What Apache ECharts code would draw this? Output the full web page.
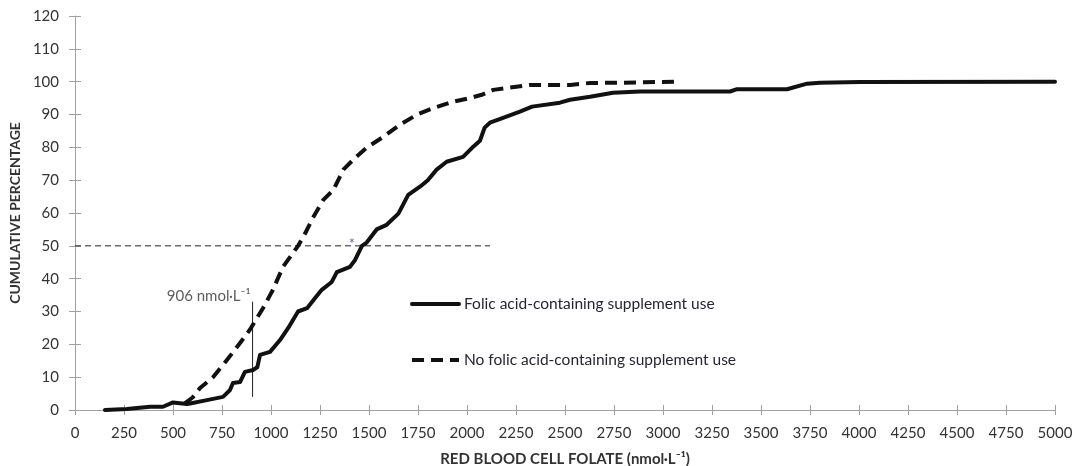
<!DOCTYPE html>
<head>
    <meta charset="utf-8">
    <script src="https://cdn.jsdelivr.net/npm/echarts@6/dist/echarts.min.js"></script>
    <title>Red blood cell folate</title>
    <style>
        html, body { margin: 0; padding: 0; background: #fff; }
    </style>
</head>

<body>
    <div id="main" style="width:1075px;height:466px;"></div>
    <script type="text/javascript">
        // folic acid-containing supplement use (x = RBC folate nmol/L, y = cumulative %)
        var suppX = [153, 265, 383, 449, 500, 571, 587, 673, 755, 790, 806, 842, 867, 908, 930, 944, 995, 1046, 1088, 1138, 1184, 1224, 1259, 1310, 1336, 1403, 1429, 1464, 1488, 1539, 1590, 1650, 1700, 1760, 1800, 1845, 1896, 1980, 2032, 2066, 2090, 2117, 2184, 2270, 2332, 2474, 2526, 2628, 2745, 2883, 3342, 3378, 3633, 3735, 3800, 4005, 5000];
        var suppY = [0, 0.3, 1, 1, 2.3, 1.8, 2, 3, 4, 6, 8.2, 8.5, 11.6, 12.2, 13, 16.8, 17.7, 21.3, 25, 30, 31, 34, 36.6, 39, 42, 43.6, 45.7, 50, 51, 55, 56.4, 59.8, 65.5, 68, 70, 73.2, 75.6, 77.1, 80.2, 82, 86, 87.5, 89, 90.9, 92.4, 93.6, 94.5, 95.4, 96.6, 97, 97, 97.7, 97.7, 99.4, 99.7, 99.9, 100];

        // no folic acid-containing supplement use
        var noSuppX = [560, 600, 638, 704, 775, 842, 893, 959, 1010, 1061, 1112, 1138, 1165, 1216, 1267, 1318, 1369, 1429, 1488, 1573, 1658, 1743, 1830, 1929, 2015, 2075, 2134, 2203, 2321, 2526, 2628, 2800, 3080];
        var noSuppY = [2, 3.8, 6.7, 10, 15.2, 20.4, 24.5, 31, 36.6, 43.6, 47.8, 50, 52.7, 58.8, 64, 67, 73.2, 76.8, 79.9, 83.2, 86.9, 89.9, 92, 93.9, 95, 96, 97.5, 98.1, 99, 99, 99.6, 99.7, 100];

        // reference lines and annotations
        var medianLineX = [0, 2117];
        var medianLineY = [50, 50];
        var cutoffX = [906, 906];
        var cutoffY = [4, 33];
        var cutoffLabel = '906 nmol·L⁻¹';
        var starPoint = [1413, 50.6];

        var seriesNames = ['Folic acid-containing supplement use', 'No folic acid-containing supplement use'];

        function pairs(xs, ys) {
            return xs.map(function (x, i) { return [x, ys[i]]; });
        }

        var myChart = echarts.init(document.getElementById('main'));
        var fontFam = 'Lato, "Open Sans", sans-serif';
        var textCol = '#333333';

        option = {
            animation: false,
            textStyle: { fontFamily: fontFam },
            grid: { left: 75, right: 20, top: 16, bottom: 56, outerBoundsMode: 'none', containLabel: false },
            legend: {
                orient: 'vertical',
                left: 405,
                top: 291,
                itemWidth: 47,
                itemHeight: 14,
                itemGap: 40,
                data: seriesNames,
                itemStyle: { opacity: 0 },
                lineStyle: { width: 4 },
                textStyle: { fontSize: 15.5, color: '#262630', fontFamily: fontFam }
            },
            xAxis: [{
                type: 'value',
                min: 0,
                max: 5000,
                interval: 250,
                name: 'RED BLOOD CELL FOLATE (nmol·L⁻¹)',
                nameLocation: 'middle',
                nameGap: 42,
                nameTextStyle: { fontSize: 15, fontWeight: 'bold', color: textCol },
                splitLine: { show: false },
                axisLine: { lineStyle: { color: '#a0a0a0', width: 1 } },
                axisTick: { length: 5, lineStyle: { color: '#a0a0a0' } },
                axisLabel: {
                    fontSize: 15, color: textCol, margin: 16, interval: 0,
                    formatter: function (v) { return String(v); }
                }
            }, {
                type: 'value',
                position: 'bottom',
                min: 0,
                max: 5000,
                interval: 250,
                splitLine: { show: false },
                axisLine: { show: false },
                axisTick: { inside: true, length: 5, lineStyle: { color: '#a0a0a0' } },
                axisLabel: { show: false }
            }],
            yAxis: [{
                type: 'value',
                min: 0,
                max: 120,
                interval: 10,
                name: 'CUMULATIVE PERCENTAGE',
                nameLocation: 'middle',
                nameGap: 47,
                nameTextStyle: { fontSize: 14, fontWeight: 'bold', color: textCol },
                splitLine: { show: false },
                axisLine: { show: true, lineStyle: { color: '#a0a0a0', width: 1 } },
                axisTick: { show: true, length: 6, lineStyle: { color: '#a0a0a0' } },
                axisLabel: { fontSize: 15, color: textCol, margin: 16 }
            }, {
                type: 'value',
                position: 'left',
                min: 0,
                max: 120,
                interval: 10,
                splitLine: { show: false },
                axisLine: { show: false },
                axisTick: { show: true, inside: true, length: 6, lineStyle: { color: '#a0a0a0' } },
                axisLabel: { show: false }
            }],
            series: [
                {
                    name: seriesNames[0],
                    type: 'line',
                    data: pairs(suppX, suppY),
                    showSymbol: false,
                    symbol: 'none',
                    lineStyle: { color: '#111', width: 4, cap: 'round', join: 'round' },
                    itemStyle: { color: '#111' },
                    z: 3
                },
                {
                    name: seriesNames[1],
                    type: 'line',
                    data: pairs(noSuppX, noSuppY),
                    showSymbol: false,
                    symbol: 'none',
                    lineStyle: { color: '#111', width: 4, type: [12, 7], cap: 'butt' },
                    itemStyle: { color: '#111' },
                    z: 3
                },
                {
                    type: 'line',
                    data: pairs(medianLineX, medianLineY),
                    showSymbol: false,
                    symbol: 'none',
                    lineStyle: { color: '#222', width: 1, type: [6, 4] },
                    silent: true,
                    z: 2
                },
                {
                    type: 'line',
                    data: pairs(cutoffX, cutoffY),
                    showSymbol: false,
                    symbol: 'none',
                    lineStyle: { color: '#222', width: 1 },
                    silent: true,
                    z: 2
                },
                {
                    type: 'scatter',
                    data: [[cutoffX[1], cutoffY[1]]],
                    symbolSize: 0,
                    silent: true,
                    label: {
                        show: true,
                        position: 'left',
                        distance: 2,
                        offset: [0, -5],
                        formatter: cutoffLabel,
                        fontSize: 15,
                        color: textCol
                    }
                },
                {
                    type: 'scatter',
                    data: [starPoint],
                    symbolSize: 0,
                    silent: true,
                    label: {
                        show: true,
                        position: 'inside',
                        formatter: '*',
                        fontSize: 15,
                        color: '#2d4a78'
                    }
                }
            ]
        };

        myChart.setOption(option);
    </script>
</body>
